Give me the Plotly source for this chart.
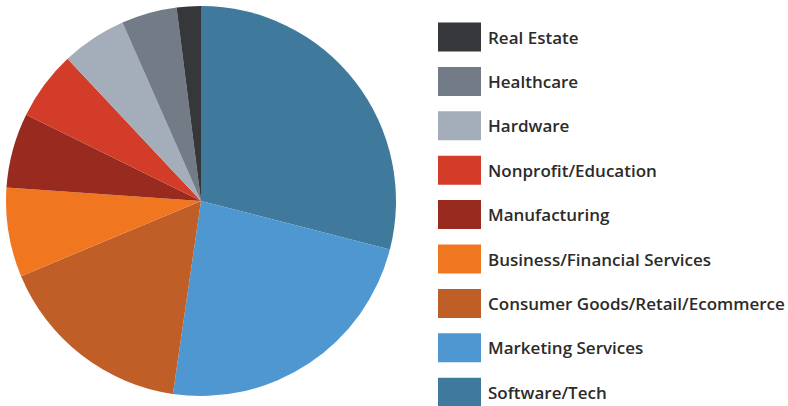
import plotly.graph_objects as go

categories = ["Software/Tech", "Marketing Services", "Consumer Goods/Retail/Ecommerce",
              "Business/Financial Services", "Manufacturing", "Nonprofit/Education",
              "Hardware", "Healthcare", "Real Estate"]
shares = [29.0, 23.3, 16.4, 7.4, 6.2, 5.7, 5.4, 4.6, 2.0]
colors = ["#3f7a9c", "#4f97d1", "#c05e27", "#f07720", "#982a20", "#d23c28",
          "#a4adba", "#737c86", "#35373b"]

W, H = 788, 406

fig = go.Figure(go.Pie(
    labels=categories, values=shares, sort=False, direction="clockwise", rotation=0,
    marker=dict(colors=colors, line=dict(width=0)),
    textinfo="none", hoverinfo="label+percent", showlegend=False,
    domain=dict(x=[6 / W, 396 / W], y=[(205 - 195) / H, (205 + 195) / H]),
))

# Custom legend (reverse order, top to bottom)
shapes, annotations = [], []
legend_items = list(zip(categories, colors))[::-1]
y0 = 37.0
step = 44.4
for i, (lab, col) in enumerate(legend_items):
    yc = y0 + i * step
    shapes.append(dict(type="rect", xref="paper", yref="paper",
                       x0=438 / W, x1=481 / W,
                       y0=(H - (yc + 14.5)) / H, y1=(H - (yc - 14.5)) / H,
                       fillcolor=col, line=dict(width=0), layer="above"))
    annotations.append(dict(x=486 / W, y=(H - yc) / H, xref="paper", yref="paper",
                            text=lab, showarrow=False, xanchor="left", yanchor="middle",
                            font=dict(family="Open Sans", size=17, color="#2b2b2b", weight=600)))

fig.update_layout(width=W, height=H, margin=dict(l=0, r=0, t=0, b=0),
                  paper_bgcolor="white", plot_bgcolor="white",
                  shapes=shapes, annotations=annotations)

fig.write_html("out.html", config={"displayModeBar": False},
               post_script="document.body.style.margin='0';")
